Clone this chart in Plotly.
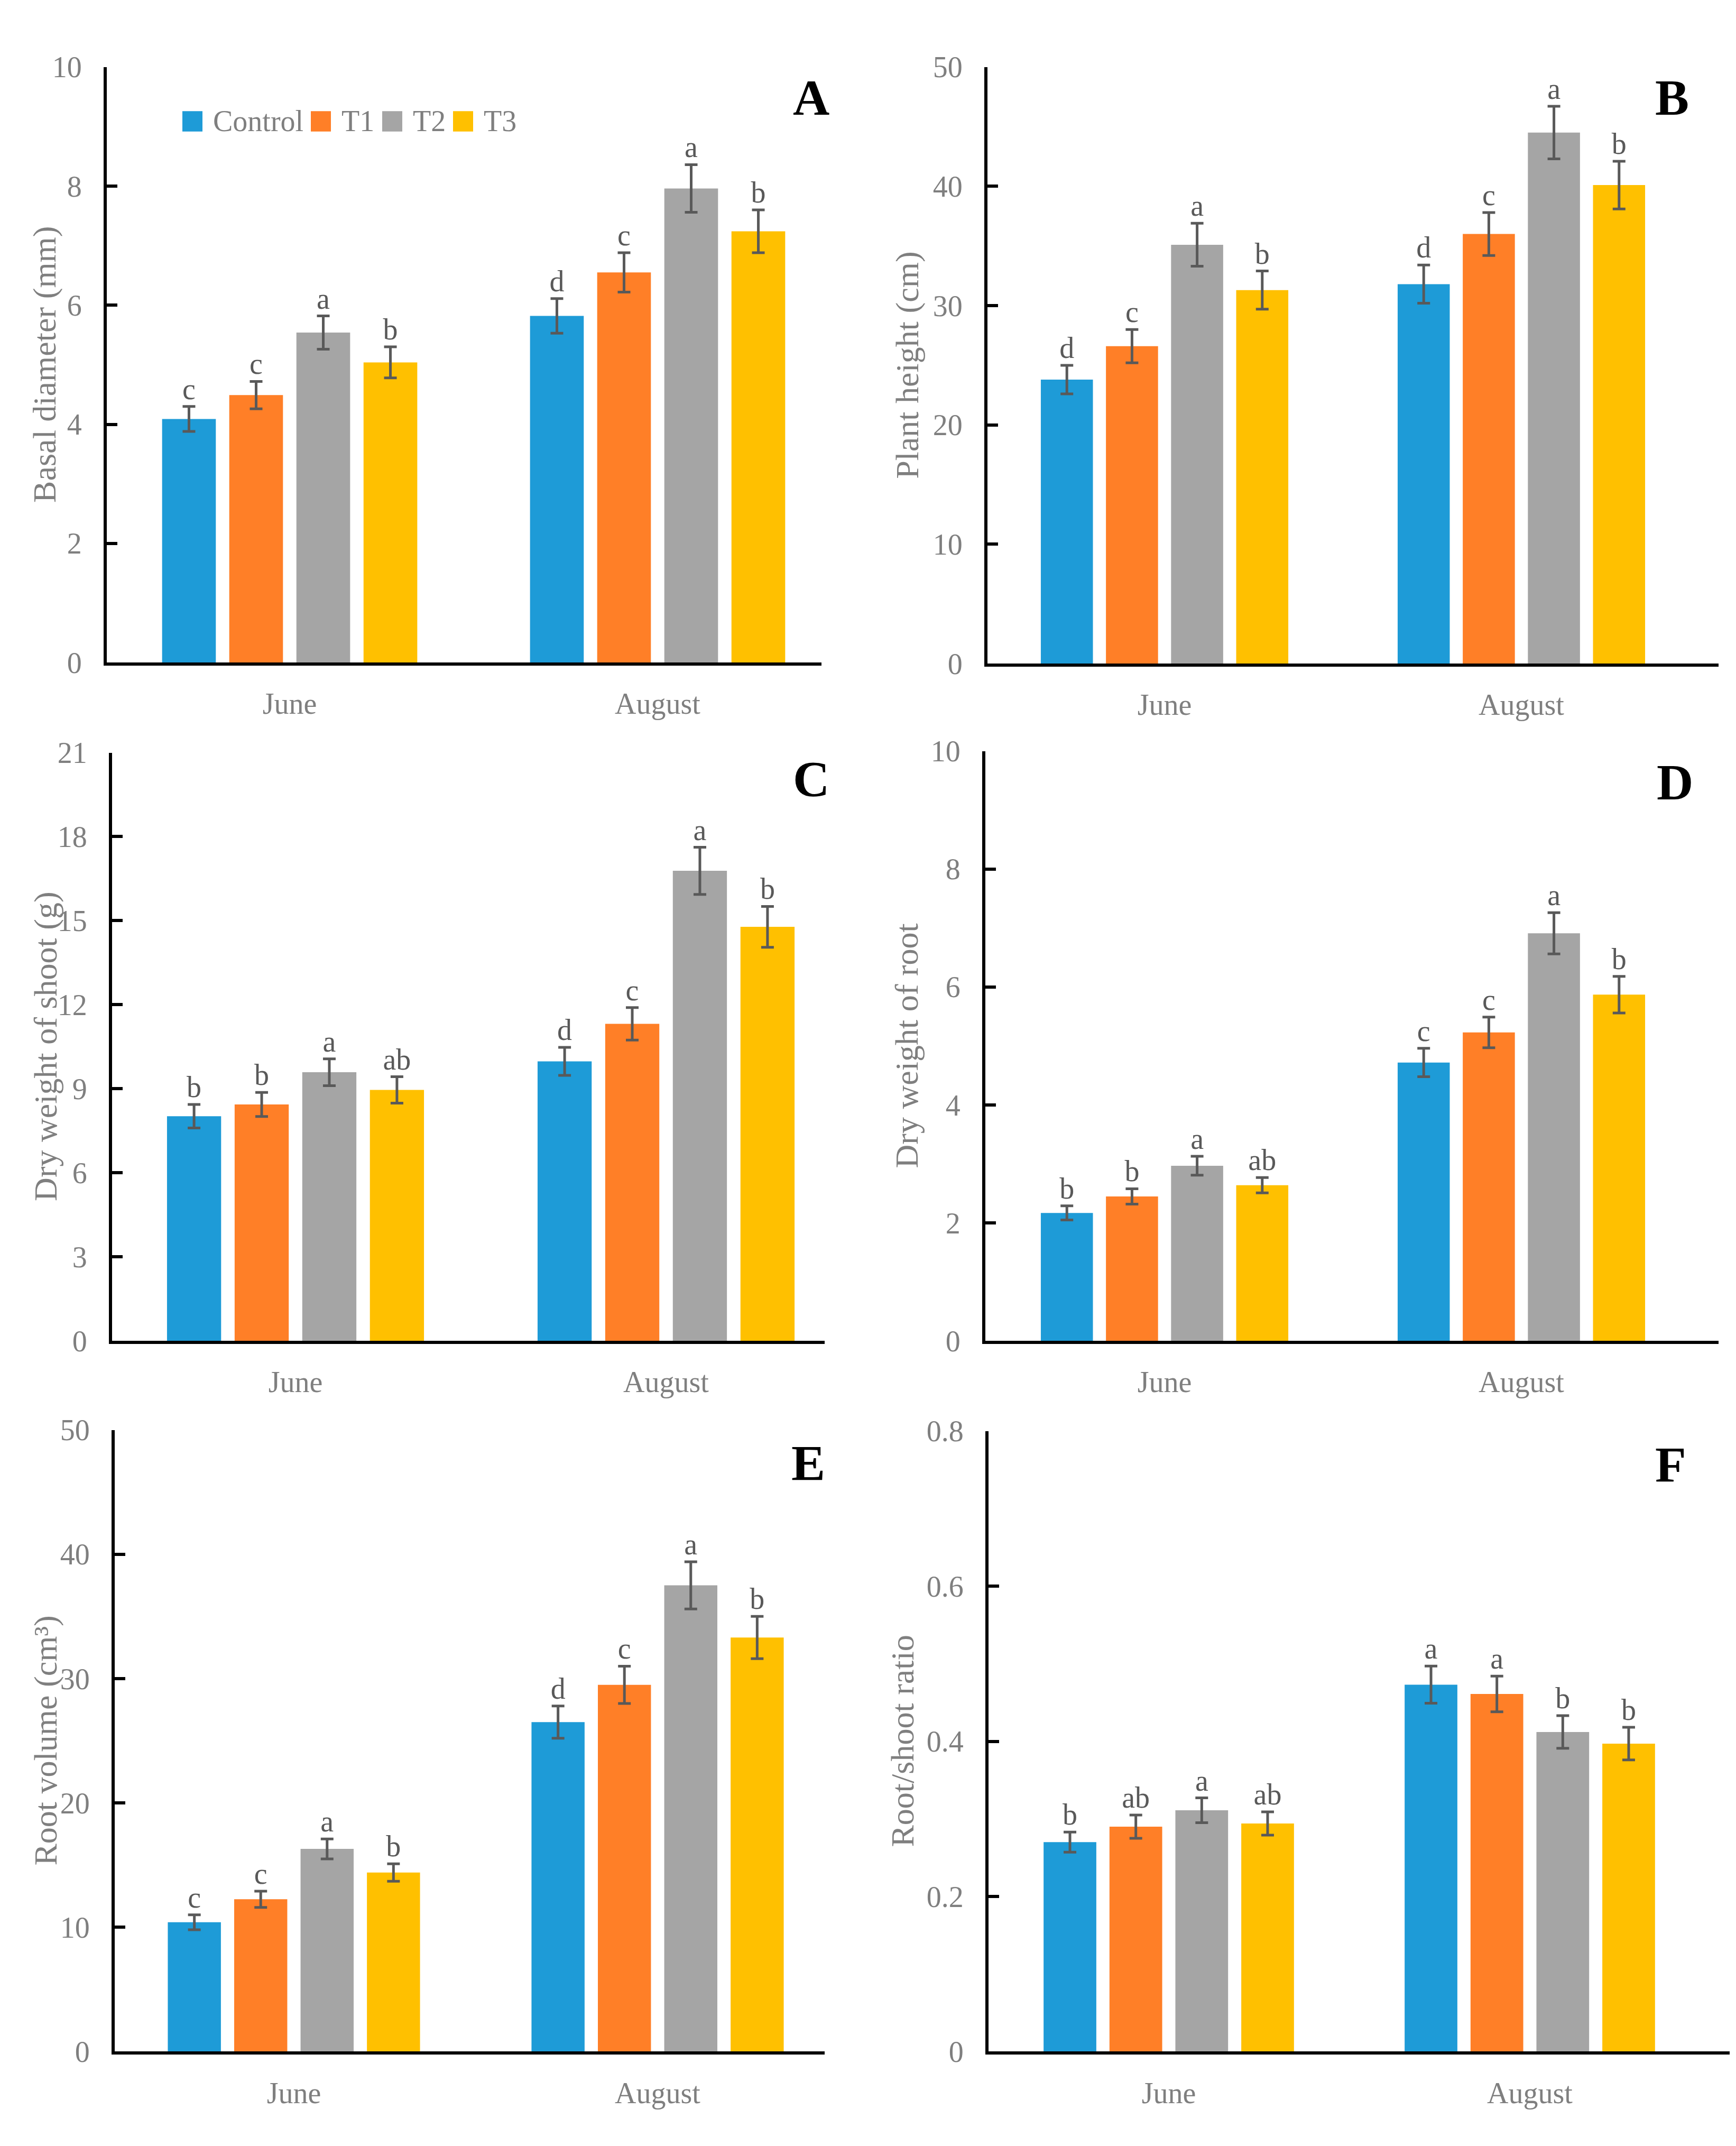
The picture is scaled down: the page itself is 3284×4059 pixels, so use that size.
import plotly.graph_objects as go

months = ["June", "August"]
treatments = ["Control", "T1", "T2", "T3"]
colors = ["#1E9BD7", "#FF7F27", "#A5A5A5", "#FFC000"]

# rows = treatments (Control, T1, T2, T3), columns = months (June, August)
basal_mean = [[4.09, 5.82], [4.49, 6.55], [5.54, 7.96], [5.04, 7.24]]
basal_err = [[0.21, 0.29], [0.23, 0.33], [0.28, 0.40], [0.26, 0.36]]
basal_letters = [["c", "d"], ["c", "c"], ["a", "a"], ["b", "b"]]

height_mean = [[23.8, 31.8], [26.6, 36.0], [35.1, 44.5], [31.3, 40.1]]
height_err = [[1.2, 1.6], [1.4, 1.8], [1.8, 2.2], [1.6, 2.0]]
height_letters = [["d", "d"], ["c", "c"], ["a", "a"], ["b", "b"]]

shoot_mean = [[8.02, 9.98], [8.44, 11.32], [9.59, 16.78], [8.96, 14.78]]
shoot_err = [[0.42, 0.50], [0.43, 0.58], [0.48, 0.84], [0.47, 0.73]]
shoot_letters = [["b", "d"], ["b", "c"], ["a", "a"], ["ab", "b"]]

root_mean = [[2.17, 4.72], [2.45, 5.23], [2.97, 6.91], [2.64, 5.87]]
root_err = [[0.12, 0.24], [0.13, 0.26], [0.16, 0.35], [0.13, 0.31]]
root_letters = [["b", "c"], ["b", "c"], ["a", "a"], ["ab", "b"]]

volume_mean = [[10.4, 26.5], [12.25, 29.5], [16.3, 37.5], [14.4, 33.3]]
volume_err = [[0.6, 1.3], [0.65, 1.5], [0.8, 1.9], [0.7, 1.7]]
volume_letters = [["c", "d"], ["c", "c"], ["a", "a"], ["b", "b"]]

ratio_mean = [[0.270, 0.473], [0.290, 0.461], [0.311, 0.412], [0.294, 0.397]]
ratio_err = [[0.013, 0.024], [0.015, 0.023], [0.016, 0.021], [0.015, 0.021]]
ratio_letters = [["b", "a"], ["ab", "a"], ["a", "b"], ["ab", "b"]]

y_titles = ["Basal diameter (mm)", "Plant height (cm)", "Dry weight of shoot (g)",
            "Dry weight of root", "Root volume (cm³)", "Root/shoot ratio"]
y_max = [10, 50, 21, 10, 50, 0.8]
y_step = [2, 10, 3, 2, 10, 0.2]
tags = ["A", "B", "C", "D", "E", "F"]

panels = [
    (basal_mean, basal_err, basal_letters),
    (height_mean, height_err, height_letters),
    (shoot_mean, shoot_err, shoot_letters),
    (root_mean, root_err, root_letters),
    (volume_mean, volume_err, volume_letters),
    (ratio_mean, ratio_err, ratio_letters),
]

W, H = 3284, 4059
FONT = "Liberation Serif"
GREY = "#7f7f7f"
DARK = "#595959"

# pixel geometry: y-axis x, June centre, August centre, right end, top, bottom
geom = [
    (194, 540, 1236, 1546, 90, 1234),
    (1860, 2195, 2870, 3243, 90, 1236),
    (204, 551, 1252, 1552, 1407, 2537),
    (1856, 2195, 2870, 3243, 1404, 2537),
    (209, 548, 1236, 1552, 2708, 3902),
    (1862, 2203, 2886, 3264, 2710, 3902),
]
tag_pos = [(1526, 149), (3155, 149), (1526, 1458), (3160, 1464), (1521, 2772), (3152, 2775)]
title_x = [77, 1709, 79, 1707, 79, 1699]

fig = go.Figure()
layout = dict()
annotations = []

for i, (means, errs, letters) in enumerate(panels):
    n = "" if i == 0 else str(i + 1)
    xa, ya = "x" + n, "y" + n
    for j, name in enumerate(treatments):
        fig.add_trace(go.Bar(
            x=months, y=means[j], name=name,
            marker=dict(color=colors[j], line=dict(width=0)),
            error_y=dict(type="data", array=errs[j], color=DARK, thickness=5, width=12),
            offsetgroup=str(j), xaxis=xa, yaxis=ya, showlegend=False,
        ))
        fig.add_trace(go.Scatter(
            x=months, y=[m + e for m, e in zip(means[j], errs[j])],
            text=letters[j], mode="text", textposition="top center",
            textfont=dict(family=FONT, size=56, color=DARK),
            offsetgroup=str(j), xaxis=xa, yaxis=ya, showlegend=False, hoverinfo="skip",
        ))

    left, jun, aug, right, top, bottom = geom[i]
    cw = aug - jun
    layout["xaxis" + n] = dict(
        domain=[left / W, right / W], anchor=ya,
        range=[-(jun - left) / cw, (right - jun) / cw],
        showline=True, linecolor="black", linewidth=6, ticks="",
        showgrid=False, zeroline=False, ticklabelstandoff=24,
        tickfont=dict(family=FONT, size=56, color=GREY),
    )
    layout["yaxis" + n] = dict(
        domain=[1 - bottom / H, 1 - top / H], anchor=xa,
        range=[0, y_max[i]], dtick=y_step[i], tick0=0,
        showline=True, linecolor="black", linewidth=6,
        ticks="inside", ticklen=20, tickwidth=6, tickcolor="black",
        showgrid=False, zeroline=False, ticklabelstandoff=30,
        tickfont=dict(family=FONT, size=56, color=GREY),
    )
    # y-axis title
    annotations.append(dict(
        text=y_titles[i], textangle=-90, x=title_x[i] / W, y=1 - (top + bottom) / 2 / H,
        xref="paper", yref="paper", xanchor="center", yanchor="middle", showarrow=False,
        font=dict(family=FONT, size=62, color=GREY),
    ))
    # panel tag
    tx, ty = tag_pos[i]
    annotations.append(dict(
        text="<b>" + tags[i] + "</b>", x=tx / W, y=1 - ty / H, xref="paper", yref="paper",
        xanchor="center", yanchor="middle", showarrow=False,
        font=dict(family=FONT, size=96, color="black"),
    ))

# legend drawn inside panel A
swatch_x = [337, 580, 715, 849]
shapes = []
for j, name in enumerate(treatments):
    x0 = swatch_x[j]
    shapes.append(dict(
        type="rect", xref="paper", yref="paper",
        x0=x0 / W, x1=(x0 + 38) / W, y0=1 - 214 / H, y1=1 - 175 / H,
        fillcolor=colors[j], line=dict(width=0),
    ))
    annotations.append(dict(
        text=name, x=(x0 + 56) / W, y=1 - 194 / H, xref="paper", yref="paper",
        xanchor="left", yanchor="middle", showarrow=False,
        font=dict(family=FONT, size=56, color=GREY),
    ))

fig.update_layout(
    width=W, height=H,
    margin=dict(l=0, r=0, t=0, b=0),
    paper_bgcolor="white", plot_bgcolor="white",
    barmode="group", bargap=0.27, bargroupgap=0.2,
    scattermode="group", scattergap=0.27,
    font=dict(family=FONT, color=GREY),
    annotations=annotations, shapes=shapes,
    **layout,
)

fig.write_html("out.html")
